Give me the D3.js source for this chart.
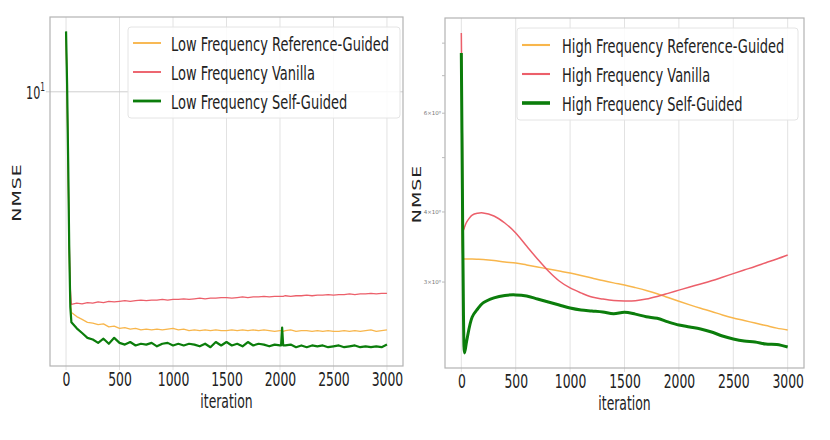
<!DOCTYPE html>
<html>
<head>
<meta charset="utf-8">
<script src="https://cdn.jsdelivr.net/npm/d3@7"></script>
<style>
  body { margin: 0; background: #fff; }
  text { font-family: "DejaVu Sans", sans-serif; fill: #222; }
</style>
</head>
<body>
<script>
// values (NMSE vs iteration)

// low frequency panel
var lowIter = [0, 10, 20, 30, 40,
  50, 100, 150, 200, 250, 300, 350, 400, 450, 500,
  550, 600, 650, 700, 750, 800, 850, 900, 950, 1000,
  1050, 1100, 1150, 1200, 1250, 1300, 1350, 1400, 1450, 1500,
  1550, 1600, 1650, 1700, 1750, 1800, 1850, 1900, 1950, 2000,
  2010, 2020, 2030,
  2050, 2100, 2150, 2200, 2250, 2300, 2350, 2400, 2450, 2500,
  2550, 2600, 2650, 2700, 2750, 2800, 2850, 2900, 2950, 3000];
var lowRef = [15.0, 10.0, 5.5, 3.0, 2.2,
  2.02, 1.96, 1.92, 1.88, 1.87, 1.85, 1.86, 1.82, 1.83, 1.80,
  1.81, 1.79, 1.80, 1.78, 1.79, 1.78, 1.79, 1.78, 1.79, 1.80,
  1.78, 1.79, 1.77, 1.78, 1.77, 1.78, 1.77, 1.78, 1.77, 1.77,
  1.78, 1.77, 1.78, 1.77, 1.78, 1.77, 1.78, 1.77, 1.76, 1.77,
  1.77, 1.77, 1.76,
  1.77, 1.78, 1.76, 1.77, 1.77, 1.76, 1.77, 1.76, 1.77, 1.76,
  1.76, 1.77, 1.76, 1.77, 1.76, 1.77, 1.78, 1.76, 1.77, 1.78];
var lowVanilla = [15.2, 10.2, 5.8, 3.4, 2.4,
  2.14, 2.16, 2.15, 2.17, 2.16, 2.18, 2.17, 2.19, 2.18, 2.19,
  2.20, 2.19, 2.20, 2.21, 2.20, 2.21, 2.21, 2.22, 2.21, 2.22,
  2.22, 2.23, 2.22, 2.23, 2.24, 2.23, 2.24, 2.24, 2.25, 2.25,
  2.24, 2.25, 2.26, 2.25, 2.26, 2.26, 2.27, 2.26, 2.27, 2.27,
  2.27, 2.27, 2.27,
  2.28, 2.27, 2.28, 2.28, 2.29, 2.28, 2.29, 2.29, 2.30, 2.29,
  2.30, 2.30, 2.31, 2.30, 2.31, 2.31, 2.32, 2.31, 2.32, 2.32];
var lowSelf = [15.5, 10.5, 6.0, 3.2, 2.1,
  1.88, 1.80, 1.74, 1.68, 1.66, 1.62, 1.67, 1.61, 1.68, 1.62,
  1.60, 1.63, 1.59, 1.61, 1.60, 1.62, 1.58, 1.61, 1.62, 1.59,
  1.61, 1.59, 1.61, 1.60, 1.58, 1.61, 1.57, 1.63, 1.59, 1.63,
  1.59, 1.61, 1.58, 1.63, 1.59, 1.61, 1.60, 1.58, 1.60, 1.59,
  1.59, 1.81, 1.59,
  1.59, 1.60, 1.57, 1.59, 1.57, 1.59, 1.58, 1.59, 1.57, 1.58,
  1.59, 1.57, 1.58, 1.59, 1.57, 1.58, 1.57, 1.58, 1.57, 1.60];

// high frequency panel
var highIter = [0, 10, 20, 30, 50, 100, 150, 200,
  300, 400, 500, 600, 700, 800, 900, 1000,
  1100, 1200, 1300, 1400, 1500, 1600, 1700, 1800, 1900, 2000,
  2100, 2200, 2300, 2400, 2500, 2600, 2700, 2800, 2900, 3000];
var highRef = [7.6, 4.6, 3.298, 3.298, 3.298, 3.298, 3.295, 3.291,
  3.277, 3.257, 3.245, 3.219, 3.192, 3.165, 3.139, 3.113,
  3.083, 3.051, 3.019, 2.990, 2.964, 2.932, 2.898, 2.860, 2.815, 2.772,
  2.732, 2.694, 2.659, 2.621, 2.588, 2.562, 2.535, 2.509, 2.483, 2.465];
var highVanilla = [8.34, 5.3, 3.715, 3.76, 3.84, 3.95, 3.98, 3.985,
  3.935, 3.823, 3.669, 3.478, 3.298, 3.139, 3.013, 2.928,
  2.869, 2.821, 2.798, 2.781, 2.776, 2.779, 2.798, 2.828, 2.864, 2.902,
  2.940, 2.977, 3.016, 3.060, 3.106, 3.152, 3.198, 3.248, 3.298, 3.353];
var highSelf = [7.68, 4.4, 2.6, 2.243, 2.36, 2.599, 2.686, 2.754,
  2.811, 2.840, 2.846, 2.833, 2.798, 2.764, 2.730, 2.697,
  2.675, 2.664, 2.653, 2.635, 2.650, 2.630, 2.602, 2.585, 2.547, 2.515,
  2.495, 2.474, 2.444, 2.404, 2.375, 2.355, 2.346, 2.326, 2.322, 2.298];

var xTicks = [0, 500, 1000, 1500, 2000, 2500, 3000];
var lowMajor = [10];
var highMinor = [3, 4, 5, 6, 7, 8];
var highMinorLabelled = [3, 4, 6];

var lowNames = ["Low Frequency Reference-Guided", "Low Frequency Vanilla", "Low Frequency Self-Guided"];
var highNames = ["High Frequency Reference-Guided", "High Frequency Vanilla", "High Frequency Self-Guided"];

var colors = ["#f8b64c", "#ec5f6a", "#0b7d0b"];

var w = 830;
var h = 440;
var squeeze = 0.62; // the picture is narrow, text too

var svg = d3.select("body")
  .append("svg")
  .attr("width", w)
  .attr("height", h);

svg.append("rect").attr("width", w).attr("height", h).attr("fill", "#fff");

function zipUp(xs, ys) {
  return xs.map(function(v, i) { return [v, ys[i]]; });
}

function drawPanel(p) {
  var x = d3.scaleLinear().domain([-150, 3150]).range([p.left, p.right]);
  var y = d3.scaleLog().domain(p.ydom).range([p.bottom, p.top]);
  var g = svg.append("g");

  // vertical grid lines poke out a bit below the frame like ticks
  g.selectAll(".vgrid")
    .data(xTicks)
    .enter()
    .append("line")
    .attr("x1", function(d) { return x(d); })
    .attr("x2", function(d) { return x(d); })
    .attr("y1", p.top)
    .attr("y2", p.bottom + 4)
    .attr("stroke", "#e2e2e2")
    .attr("stroke-width", 1);

  g.selectAll(".hgrid")
    .data(p.major)
    .enter()
    .append("line")
    .attr("x1", p.left - 4)
    .attr("x2", p.right)
    .attr("y1", function(d) { return y(d); })
    .attr("y2", function(d) { return y(d); })
    .attr("stroke", "#cfcfcf")
    .attr("stroke-width", 1);

  // x axis labels
  var ax = g.append("g")
    .attr("transform", "translate(0," + p.bottom + ")")
    .call(d3.axisBottom(x).tickValues(xTicks).tickFormat(d3.format("d")).tickSize(0).tickPadding(6));
  ax.select(".domain").remove();
  ax.selectAll("text")
    .attr("font-size", 20)
    .attr("fill", "#222")
    .attr("font-family", "DejaVu Sans")
    .attr("transform", "scale(" + squeeze + ",1)");

  // the series
  var line = d3.line()
    .x(function(d) { return x(d[0]); })
    .y(function(d) { return y(d[1]); })
    .curve(p.curve);

  p.series.forEach(function(s, i) {
    g.append("path")
      .datum(zipUp(p.iter, s))
      .attr("d", line)
      .attr("fill", "none")
      .attr("stroke", colors[i])
      .attr("stroke-width", p.widths[i])
      .attr("stroke-linejoin", "round");
  });

  // frame
  g.append("rect")
    .attr("x", p.left)
    .attr("y", p.top)
    .attr("width", p.right - p.left)
    .attr("height", p.bottom - p.top)
    .attr("fill", "none")
    .attr("stroke", "#b3b3b3")
    .attr("stroke-width", 1.2);

  // legend
  var lg = g.append("g");
  lg.append("rect")
    .attr("x", p.leg.x)
    .attr("y", p.leg.y)
    .attr("width", p.leg.w)
    .attr("height", p.leg.h)
    .attr("rx", 3)
    .attr("fill", "#fff")
    .attr("fill-opacity", 0.85)
    .attr("stroke", "#e4e4e4");
  var rows = lg.selectAll(".row")
    .data(p.names)
    .enter()
    .append("g")
    .attr("transform", function(d, i) { return "translate(0," + p.leg.rows[i] + ")"; });
  rows.append("line")
    .attr("x1", p.leg.x + 5)
    .attr("x2", p.leg.x + 33)
    .attr("stroke", function(d, i) { return colors[i]; })
    .attr("stroke-width", function(d, i) { return p.widths[i] + 0.6; });
  rows.append("text")
    .attr("transform", "translate(" + p.leg.tx + ",7.5) scale(0.65,1)")
    .attr("font-size", 20)
    .text(function(d) { return d; });

  // axis titles
  g.append("text")
    .attr("transform", "translate(" + ((x(0) + x(3000)) / 2) + "," + p.xlabY + ") scale(" + squeeze + ",1)")
    .attr("text-anchor", "middle")
    .attr("font-size", 20)
    .text("iteration");
  g.append("text")
    .attr("transform", "translate(" + p.ylabX + "," + ((p.top + p.bottom) / 2 + 1) + ") scale(" + squeeze + ",1) rotate(-90)")
    .attr("text-anchor", "middle")
    .attr("font-size", 19)
    .attr("letter-spacing", 1)
    .text("NMSE");

  return { x: x, y: y, g: g };
}

var left = drawPanel({
  left: 50, right: 403, top: 17, bottom: 366,
  ydom: [1.37, 17.2],
  iter: lowIter,
  series: [lowRef, lowVanilla, lowSelf],
  widths: [1.3, 1.3, 2.2],
  curve: d3.curveLinear,
  major: lowMajor,
  names: lowNames,
  leg: { x: 128, y: 27, w: 272, h: 91, rows: [43, 72, 101], tx: 171 },
  xlabY: 408,
  ylabX: 21
});

// 10^1 on the left axis
left.g.selectAll(".ylab")
  .data(lowMajor)
  .enter()
  .append("text")
  .attr("transform", function(d) { return "translate(45," + (left.y(d) + 7) + ") scale(" + squeeze + ",1)"; })
  .attr("text-anchor", "end")
  .attr("font-size", 18)
  .html(function(d) { return "10<tspan font-size='12' dy='-8'>1</tspan>"; });

var right = drawPanel({
  left: 445, right: 804, top: 18, bottom: 368,
  ydom: [2.108, 8.87],
  iter: highIter,
  series: [highRef, highVanilla, highSelf],
  widths: [1.5, 1.5, 3],
  curve: d3.curveCatmullRom.alpha(0.5),
  major: [],
  names: highNames,
  leg: { x: 517, y: 28, w: 281, h: 92, rows: [45, 74, 103], tx: 562 },
  xlabY: 410,
  ylabX: 421
});

// minor ticks, only a few carry (tiny) labels
right.g.selectAll(".minor")
  .data(highMinor)
  .enter()
  .append("line")
  .attr("x1", 442)
  .attr("x2", 445)
  .attr("y1", function(d) { return right.y(d); })
  .attr("y2", function(d) { return right.y(d); })
  .attr("stroke", "#bbb");

right.g.selectAll(".minorlab")
  .data(highMinorLabelled)
  .enter()
  .append("text")
  .attr("x", 441)
  .attr("y", function(d) { return right.y(d) + 2; })
  .attr("text-anchor", "end")
  .attr("font-size", 5.5)
  .style("fill", "#777")
  .text(function(d) { return d + "\u00d710\u2070"; });
</script>
</body>
</html>
